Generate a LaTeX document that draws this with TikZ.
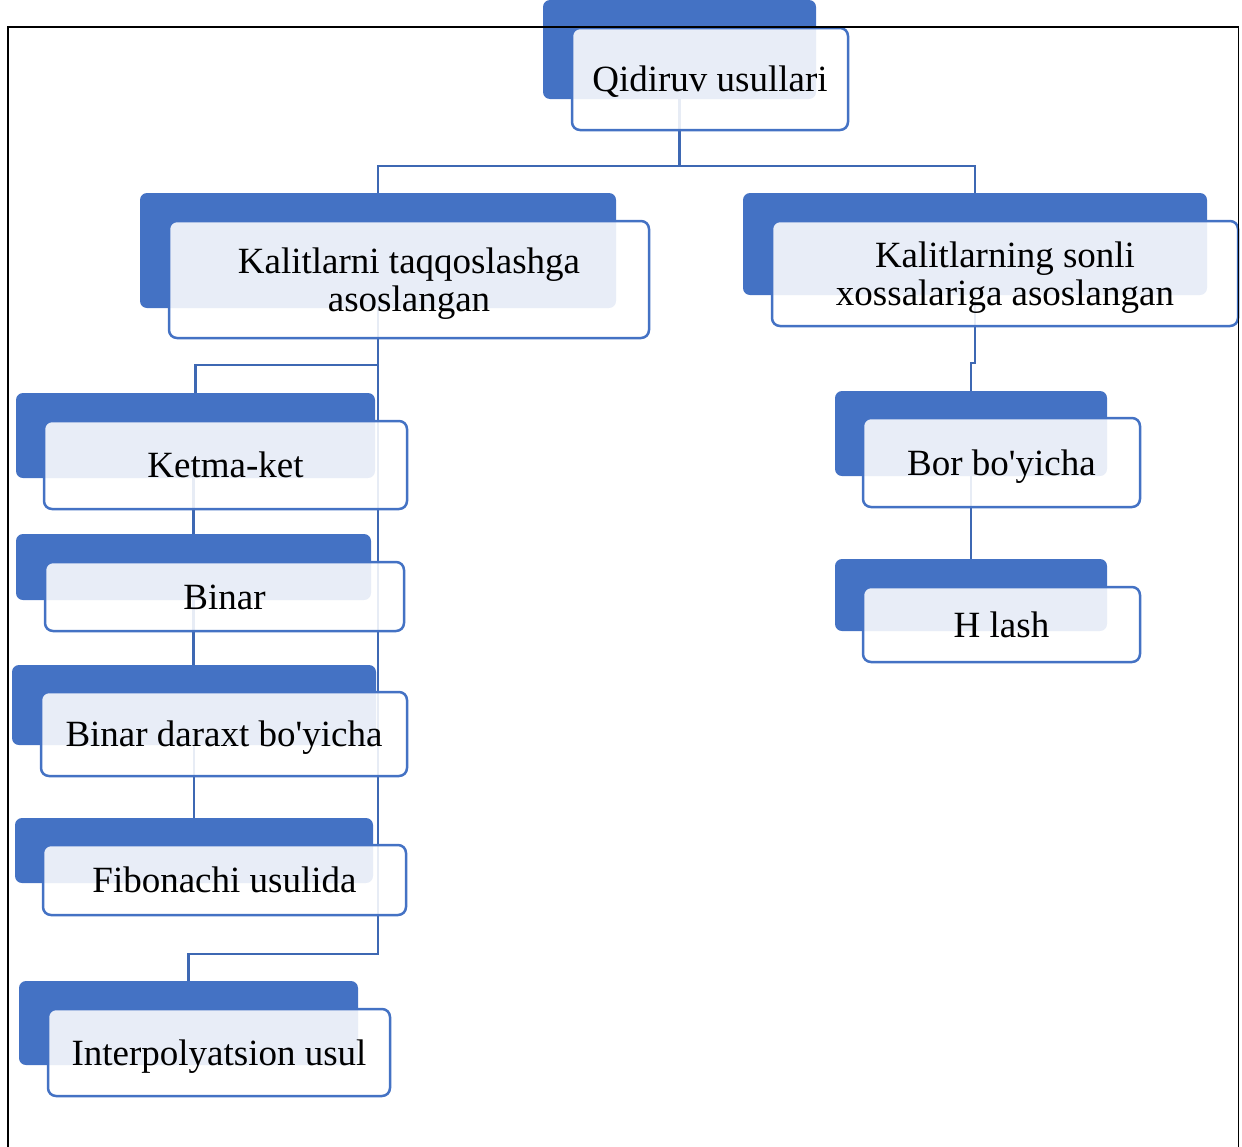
\documentclass[tikz,border=0pt]{standalone}
\usepackage{fontspec}
\setmainfont{Liberation Serif}
\definecolor{acc}{HTML}{4472C4}
\definecolor{connc}{HTML}{3E68B3}
\pgfdeclarelayer{bg}
\pgfdeclarelayer{fg}
\pgfsetlayers{bg,main,fg}
\begin{document}
\begin{tikzpicture}[x=1pt,y=-1pt,
  backbox/.style={draw=none, fill=acc, rounded corners=7pt, inner sep=0pt, outer sep=0pt},
  frontbox/.style={draw=acc, line width=2.5pt, fill=white, fill opacity=0.88, text opacity=1,
    rounded corners=8pt, inner sep=0pt, outer sep=0pt, font=\fontsize{37}{38}\selectfont, align=center},
  one/.style={text height=33pt, text depth=8pt},
  conn/.style={draw=connc, line width=2.7pt},
]
\useasboundingbox (0,0) rectangle (1242,1146);

% top
\node[backbox, minimum width=273pt, minimum height=99pt] (qb) at (679.5,49.5) {};
\node[frontbox, one, minimum width=276pt, minimum height=102pt] (q) at (710,79) {Qidiruv usullari};

% level 2
\node[backbox, minimum width=476pt, minimum height=115pt] (kb) at (378,250.5) {};
\node[frontbox, minimum width=480pt, minimum height=117pt] (k) at (409,279.5) {\rule{0pt}{33pt}Kalitlarni taqqoslashga\\asoslangan};

\node[backbox, minimum width=464pt, minimum height=102pt] (klb) at (975,244) {};
\node[frontbox, minimum width=466pt, minimum height=105pt] (kl) at (1005,273.5) {\rule{0pt}{33pt}Kalitlarning sonli\\xossalariga asoslangan};

% left column
\node[backbox, minimum width=359pt, minimum height=85pt] (kkb) at (195.5,435.5) {};
\node[frontbox, one, minimum width=363pt, minimum height=88pt] (kk) at (225.5,465) {Ketma-ket};

\node[backbox, minimum width=355pt, minimum height=66pt] (bb) at (193.5,567) {};
\node[frontbox, one, minimum width=359pt, minimum height=69pt] (b) at (224.5,596.5) {Binar};

\node[backbox, minimum width=364pt, minimum height=80pt] (bdb) at (194,705) {};
\node[frontbox, one, minimum width=366pt, minimum height=84pt] (bd) at (224,734) {Binar daraxt bo\textquotesingle yicha};

\node[backbox, minimum width=358pt, minimum height=65pt] (fb) at (194,850.5) {};
\node[frontbox, one, minimum width=363pt, minimum height=70pt] (f) at (224.5,880) {Fibonachi usulida};

\node[backbox, minimum width=339pt, minimum height=84pt] (ib) at (188.5,1023) {};
\node[frontbox, one, minimum width=342pt, minimum height=87pt] (i) at (219,1052.5) {Interpolyatsion usul};

% right column
\node[backbox, minimum width=272pt, minimum height=85pt] (bob) at (971,433.5) {};
\node[frontbox, one, minimum width=277pt, minimum height=89pt] (bo) at (1001.5,462.5) {Bor bo\textquotesingle yicha};

\node[backbox, minimum width=272pt, minimum height=72pt] (hb) at (971,595) {};
\node[frontbox, one, minimum width=277pt, minimum height=75pt] (h) at (1001.5,624.5) {H lash};

% connectors
\coordinate (qbus) at (679.5,166);
\coordinate (ksplit) at (378,365);
\coordinate (kend) at (378,954);
\coordinate (rjog) at (975,363);
\begin{pgfonlayer}{bg}
\draw[conn] (qb.south) -- (qbus) -| (kb.north);
\draw[conn] (qbus) -| (klb.north);
\draw[conn] (kb.south) -- (kend) -| (ib.north);
\draw[conn] (ksplit) -| (kkb.north);
\draw[conn] (bb.north) -- (bb.north |- kkb.south);
\draw[conn] (bb.south) -- (bb.south |- bdb.north);
\draw[conn] (bdb.south) -- (bdb.south |- fb.north);
\draw[conn] (klb.south) -- (rjog) -| (bob.north);
\draw[conn] (bob.south) -- (hb.north);
\end{pgfonlayer}

% frame
\begin{pgfonlayer}{fg}
\draw[line width=1.8pt, line join=miter] (8,1160) -- (8,27) -- (1238.5,27) -- (1238.5,1160);
\end{pgfonlayer}
\end{tikzpicture}
\end{document}
